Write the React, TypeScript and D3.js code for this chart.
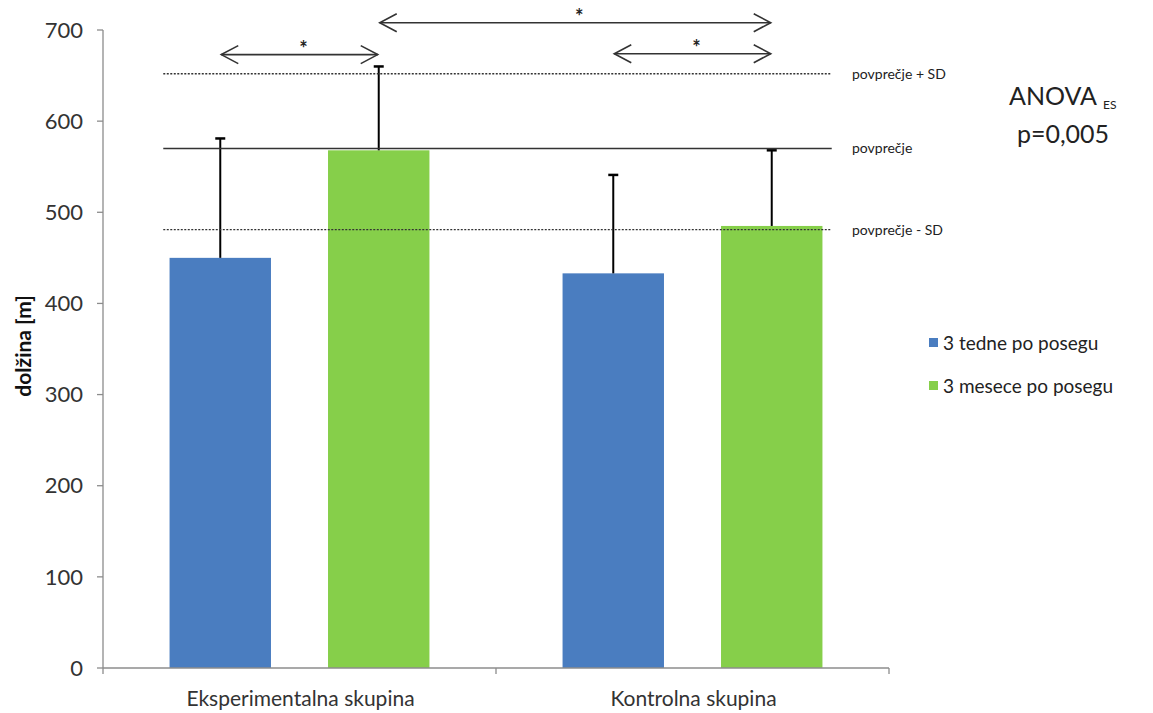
import React from "react";
import * as d3 from "d3";

const categories = ["Eksperimentalna skupina", "Kontrolna skupina"];
const seriesNames = ["3 tedne po posegu", "3 mesece po posegu"];
const seriesColors = ["#4a7dc0", "#86cf4a"];
const means3Weeks = [450, 433];
const means3Months = [568, 485];
const sd3Weeks = [131, 108];
const sd3Months = [92, 83];
const yTicks = [0, 100, 200, 300, 400, 500, 600, 700];
const refLines = [
  { label: "povprečje + SD", value: 652, dashed: true },
  { label: "povprečje", value: 570, dashed: false },
  { label: "povprečje - SD", value: 481, dashed: true },
];
// comparisons: [category index, series index] pairs
const comparisons = [
  { from: [0, 0], to: [0, 1], level: 673 },
  { from: [0, 1], to: [1, 1], level: 708 },
  { from: [1, 0], to: [1, 1], level: 674 },
];

const W = 1153;
const H = 713;
const FONT = "Lato, 'Open Sans', sans-serif";

export default function App() {
  const x0 = 103, x1 = 889, yTop = 30, yBot = 668;
  const y = d3.scaleLinear().domain([0, 700]).range([yBot, yTop]);
  const xCat = d3.scaleBand().domain(categories).range([x0, x1]).paddingInner(0).paddingOuter(0);
  const xSer = d3.scaleBand().domain(seriesNames).range([0, xCat.bandwidth()]).paddingInner(0.36).paddingOuter(0.42);
  const values = [means3Weeks, means3Months];
  const sds = [sd3Weeks, sd3Months];
  const barCenter = (c: number, s: number) =>
    (xCat(categories[c]) as number) + (xSer(seriesNames[s]) as number) + xSer.bandwidth() / 2;

  const refX0 = barCenter(0, 0) - 57;
  const refX1 = barCenter(1, 1) + 60;

  const arrowHead = (x: number, yy: number, dir: number) => {
    const len = 17, half = 9;
    return `M${x + dir * len},${yy - half} L${x},${yy} L${x + dir * len},${yy + half}`;
  };

  return (
    <svg width={W} height={H} style={{ position: "absolute", left: 0, top: 0, background: "#fff" }} fontFamily={FONT}>
      {/* y axis */}
      <line x1={x0} x2={x0} y1={yTop} y2={yBot} stroke="#8c8c8c" strokeWidth={1.3} />
      {yTicks.map((t) => (
        <g key={t}>
          <line x1={x0 - 6} x2={x0} y1={y(t)} y2={y(t)} stroke="#8c8c8c" strokeWidth={1.3} />
          <text x={83} y={y(t)} dy="0.35em" textAnchor="end" fontSize={22} fill="#333">
            {t}
          </text>
        </g>
      ))}
      <text transform={`translate(31,346) rotate(-90)`} textAnchor="middle" fontSize={21} fontWeight="bold" fill="#111">
        dolžina [m]
      </text>
      {/* bars */}
      {categories.map((c, ci) =>
        seriesNames.map((s, si) => (
          <rect
            key={c + s}
            x={(xCat(c) as number) + (xSer(s) as number)}
            y={y(values[si][ci])}
            width={xSer.bandwidth()}
            height={yBot - y(values[si][ci])}
            fill={seriesColors[si]}
          />
        ))
      )}
      {/* x axis */}
      <line x1={x0} x2={x1} y1={yBot} y2={yBot} stroke="#8c8c8c" strokeWidth={1.3} />
      {[x0, (xCat(categories[1]) as number), x1].map((xx, i) => (
        <line key={i} x1={xx} x2={xx} y1={yBot} y2={yBot + 6} stroke="#8c8c8c" strokeWidth={1.3} />
      ))}
      {categories.map((c) => (
        <text key={c} x={(xCat(c) as number) + xCat.bandwidth() / 2 + 1} y={706} textAnchor="middle" fontSize={21} fill="#333">
          {c}
        </text>
      ))}
      {/* error bars */}
      {categories.map((c, ci) =>
        seriesNames.map((s, si) => {
          const cx = barCenter(ci, si);
          const top = y(values[si][ci] + sds[si][ci]);
          return (
            <g key={"e" + c + s}>
              <line x1={cx} x2={cx} y1={y(values[si][ci])} y2={top} stroke="#000" strokeWidth={2} />
              <line x1={cx - 5} x2={cx + 5} y1={top} y2={top} stroke="#000" strokeWidth={2.5} />
            </g>
          );
        })
      )}
      {/* reference lines */}
      {refLines.map((r) => (
        <g key={r.label}>
          <line
            x1={refX0}
            x2={refX1}
            y1={y(r.value)}
            y2={y(r.value)}
            stroke="#333"
            strokeWidth={1.3}
            strokeDasharray={r.dashed ? "2,1.5" : undefined}
          />
          <text x={852} y={y(r.value)} dy="0.35em" fontSize={14} fill="#222">
            {r.label}
          </text>
        </g>
      ))}
      {/* comparison arrows */}
      {comparisons.map((cmp, i) => {
        const xa = barCenter(cmp.from[0], cmp.from[1]) + 1;
        const xb = barCenter(cmp.to[0], cmp.to[1]) - 1;
        const yy = y(cmp.level);
        return (
          <g key={i} stroke="#333" strokeWidth={1.6} fill="none">
            <line x1={xa} x2={xb} y1={yy} y2={yy} />
            <path d={arrowHead(xa, yy, 1)} />
            <path d={arrowHead(xb, yy, -1)} />
            <text x={(xa + xb) / 2 + 4} y={yy + 1} textAnchor="middle" fontSize={20} fontWeight="bold" fill="#222" stroke="none">
              *
            </text>
          </g>
        );
      })}
      {/* ANOVA */}
      <text x={1009} y={105} fontSize={25} fill="#222">
        ANOVA
        <tspan fontSize={12} dx={6} dy={4}>ES</tspan>
      </text>
      <text x={1063} y={143} textAnchor="middle" fontSize={25} fill="#222">
        p=0,005
      </text>
      {/* legend */}
      {seriesNames.map((s, i) => (
        <g key={s}>
          <rect x={929} y={338 + i * 43} width={9} height={9} fill={seriesColors[i]} />
          <text x={943} y={343 + i * 43} dy="0.35em" fontSize={19} fill="#222">
            {s}
          </text>
        </g>
      ))}
    </svg>
  );
}
